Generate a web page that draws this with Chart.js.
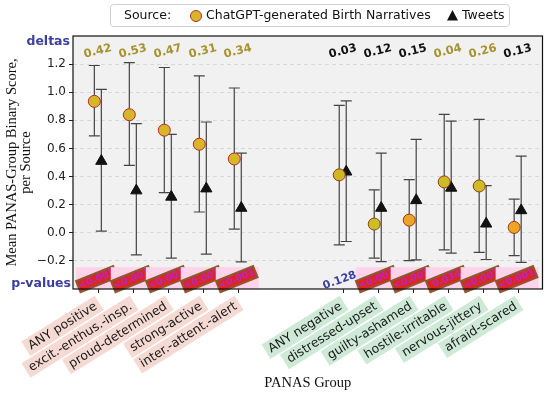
<!DOCTYPE html>
<html>
<head>
<meta charset="utf-8">
<script src="https://cdn.jsdelivr.net/npm/chart.js@4"></script>
<style>
  html, body { margin: 0; padding: 0; background: #fff; }
  #wrap { width: 550px; height: 398px; }
</style>
</head>
<body>
<div id="wrap"><canvas id="chart" width="550" height="398"></canvas></div>
<script>
// ===== PANAS group means, per source =====

const groups = ['ANY positive', 'excit.-enthus.-insp.', 'proud-determined', 'strong-active', 'inter.-attent.-alert',
  'ANY negative', 'distressed-upset', 'guilty-ashamed', 'hostile-irritable', 'nervous-jittery', 'afraid-scared'];
const positions = [0, 1, 2, 3, 4, 7, 8, 9, 10, 11, 12];
const positive = [true, true, true, true, true, false, false, false, false, false, false];

// ChatGPT-generated birth narratives
const gptMean = [0.935, 0.84, 0.73, 0.63, 0.525, 0.412, 0.062, 0.09, 0.362, 0.333, 0.038];
const gptLow = [0.69, 0.48, 0.286, 0.148, 0.026, -0.086, -0.18, -0.198, -0.121, -0.14, -0.162];
const gptHigh = [1.19, 1.21, 1.176, 1.117, 1.03, 0.907, 0.305, 0.378, 0.843, 0.807, 0.24];

// Tweets
const twMean = [0.51, 0.30, 0.255, 0.314, 0.176, 0.434, 0.176, 0.231, 0.319, 0.064, 0.159];
const twLow = [0.012, -0.157, -0.18, -0.152, -0.207, -0.062, -0.205, -0.193, -0.145, -0.19, -0.21];
const twHigh = [1.02, 0.776, 0.70, 0.788, 0.566, 0.938, 0.566, 0.665, 0.795, 0.336, 0.545];

const deltas = ['0.42', '0.53', '0.47', '0.31', '0.34', '0.03', '0.12', '0.15', '0.04', '0.26', '0.13'];
const pValues = ['<0.001', '<0.001', '<0.001', '<0.001', '<0.001', '0.128', '<0.001', '<0.001', '0.034', '<0.001', '<0.001'];
const gptFill = ['#d6b72a', '#d6b72a', '#d6b72a', '#d6b72a', '#d6b72a', '#cdb722', '#c9c025', '#f0a426', '#cdbd24', '#cdbd24', '#f0a426'];

const yTicks = [-0.2, 0, 0.2, 0.4, 0.6, 0.8, 1.0, 1.2];

const BLUE = '#3b3f9e';
const GOLD = '#a8922c';
const SANS = '"DejaVu Sans", sans-serif';
const SERIF = '"Liberation Serif", "DejaVu Serif", serif';

const OFF = 0.1; // horizontal dodge of the two sources

const panasPlugin = {
  id: 'panas',
  beforeDraw(chart) {
    const { ctx, chartArea: a } = chart;
    ctx.save();
    ctx.fillStyle = '#f1f1f1';
    ctx.fillRect(a.left, a.top, a.right - a.left, a.bottom - a.top);
    ctx.restore();
  },
  beforeDatasetsDraw(chart) {
    const { ctx } = chart;
    const xs = chart.scales.x, ys = chart.scales.y;
    ctx.save();
    ctx.strokeStyle = '#444';
    ctx.lineWidth = 1.2;
    const bar = (x, lo, hi) => {
      const px = xs.getPixelForValue(x);
      const p1 = ys.getPixelForValue(lo), p2 = ys.getPixelForValue(hi);
      ctx.beginPath();
      ctx.moveTo(px, p1); ctx.lineTo(px, p2);
      ctx.moveTo(px - 5.5, p1); ctx.lineTo(px + 5.5, p1);
      ctx.moveTo(px - 5.5, p2); ctx.lineTo(px + 5.5, p2);
      ctx.stroke();
    };
    positions.forEach((p, i) => {
      bar(p - OFF, gptLow[i], gptHigh[i]);
      bar(p + OFF, twLow[i], twHigh[i]);
    });
    ctx.restore();
  },
  afterDraw(chart) {
    const { ctx, chartArea: a } = chart;
    const xs = chart.scales.x, ys = chart.scales.y;
    ctx.save();

    // deltas
    ctx.font = 'bold 11.5px ' + SANS;
    ctx.textAlign = 'center';
    ctx.textBaseline = 'middle';
    positions.forEach((p, i) => {
      ctx.save();
      ctx.translate(xs.getPixelForValue(p), ys.getPixelForValue(1.29));
      ctx.rotate(-14 * Math.PI / 180);
      ctx.fillStyle = gptMean[i] > twMean[i] ? GOLD : '#111';
      ctx.fillText(deltas[i], 0, 0);
      ctx.restore();
    });

    // p-values: significant ones in boxes first, the rest as plain text on top
    const isSig = s => parseFloat(s.replace('<', '')) < 0.05;
    positions.forEach((p, i) => {
      if (!isSig(pValues[i])) return;
      const cx = xs.getPixelForValue(p) - 1, cy = ys.getPixelForValue(-0.33);
      ctx.save();
      ctx.fillStyle = '#ffd3ea';
      ctx.fillRect(cx - 21, cy - 12, 43, a.bottom - cy + 12);
      ctx.translate(cx, cy);
      ctx.rotate(-22 * Math.PI / 180);
      ctx.fillStyle = '#de2424';
      ctx.strokeStyle = '#8c5a2e';
      ctx.lineWidth = 2;
      ctx.fillRect(-20, -6, 40, 12);
      ctx.strokeRect(-20, -6, 40, 12);
      ctx.fillStyle = '#b52ab8';
      ctx.font = 'bold 9.5px ' + SANS;
      ctx.textAlign = 'center';
      ctx.textBaseline = 'middle';
      ctx.fillText(pValues[i], 0, 0);
      ctx.restore();
    });
    positions.forEach((p, i) => {
      if (isSig(pValues[i])) return;
      ctx.save();
      ctx.translate(xs.getPixelForValue(p) - 3, ys.getPixelForValue(-0.34));
      ctx.rotate(-20 * Math.PI / 180);
      ctx.fillStyle = BLUE;
      ctx.font = 'bold 11px ' + SANS;
      ctx.textAlign = 'center';
      ctx.textBaseline = 'middle';
      ctx.fillText(pValues[i], 0, 0);
      ctx.restore();
    });

    // frame
    ctx.strokeStyle = '#111';
    ctx.lineWidth = 1.2;
    ctx.strokeRect(a.left, a.top, a.right - a.left, a.bottom - a.top);

    // side labels
    ctx.fillStyle = BLUE;
    ctx.font = 'bold 12.5px ' + SANS;
    ctx.textAlign = 'right';
    ctx.textBaseline = 'middle';
    ctx.fillText('deltas', a.left - 3, 42);
    ctx.fillText('p-values', a.left - 2, 284);

    // x tick marks and labels with boxes
    ctx.strokeStyle = '#222';
    ctx.lineWidth = 1;
    ctx.font = '12.5px ' + SANS;
    positions.forEach((p, i) => {
      const tx = xs.getPixelForValue(p);
      const w = ctx.measureText(groups[i]).width;
      ctx.save();
      ctx.translate(tx - 2, a.bottom + 16);
      ctx.rotate(-32 * Math.PI / 180);
      ctx.fillStyle = positive[i] ? 'rgba(240, 205, 195, 0.75)' : 'rgba(190, 225, 200, 0.75)';
      ctx.fillRect(-w - 4, -8.5, w + 8, 17);
      ctx.fillStyle = '#1a1a1a';
      ctx.textAlign = 'right';
      ctx.textBaseline = 'middle';
      ctx.fillText(groups[i], 0, 0.5);
      ctx.restore();
      ctx.beginPath();
      ctx.moveTo(Math.round(tx) + 0.5, a.bottom);
      ctx.lineTo(Math.round(tx) + 0.5, a.bottom + 4);
      ctx.stroke();
    });

    // axis titles
    ctx.fillStyle = '#111';
    ctx.font = '14.5px ' + SERIF;
    ctx.textAlign = 'center';
    ctx.textBaseline = 'middle';
    ctx.fillText('PANAS Group', (a.left + a.right) / 2, 383);
    ctx.save();
    ctx.translate(12, (a.top + a.bottom) / 2);
    ctx.rotate(-Math.PI / 2);
    ctx.fillText('Mean PANAS-Group Binary Score,', 0, 0);
    ctx.fillText('per Source', 0, 14);
    ctx.restore();

    // legend
    ctx.fillStyle = 'rgba(255,255,255,0.9)';
    ctx.strokeStyle = '#cfcfcf';
    ctx.lineWidth = 1;
    ctx.beginPath();
    ctx.roundRect(110.5, 4.5, 399, 22, 3);
    ctx.fill();
    ctx.stroke();
    ctx.font = '12.5px ' + SANS;
    ctx.textAlign = 'left';
    ctx.fillStyle = '#111';
    ctx.fillText('Source:', 124, 16);
    ctx.beginPath();
    ctx.arc(196, 16, 5.5, 0, Math.PI * 2);
    ctx.fillStyle = '#d6b72a';
    ctx.fill();
    ctx.strokeStyle = '#c0282a';
    ctx.stroke();
    ctx.fillStyle = '#111';
    ctx.fillText('ChatGPT-generated Birth Narratives', 206, 16);
    ctx.beginPath();
    ctx.moveTo(452.5, 10); ctx.lineTo(458, 20.5); ctx.lineTo(447, 20.5); ctx.closePath();
    ctx.fill();
    ctx.fillText('Tweets', 462, 16);

    ctx.restore();
  }
};

new Chart(document.getElementById('chart'), {
  type: 'scatter',
  data: {
    datasets: [
      {
        label: 'ChatGPT-generated Birth Narratives',
        data: positions.map((p, i) => ({ x: p - OFF, y: gptMean[i] })),
        pointStyle: 'circle',
        pointRadius: 6,
        pointBackgroundColor: gptFill,
        pointBorderColor: positions.map((p, i) => positive[i] ? '#c0282a' : '#9a3a1a'),
        pointBorderWidth: 1
      },
      {
        label: 'Tweets',
        data: positions.map((p, i) => ({ x: p + OFF, y: twMean[i] })),
        pointStyle: 'triangle',
        pointRadius: 6.5,
        pointBackgroundColor: '#111',
        pointBorderColor: '#111',
        pointBorderWidth: 1
      }
    ]
  },
  options: {
    responsive: false,
    animation: false,
    layout: { padding: { left: 0, top: 36, right: 5, bottom: 0 } },
    plugins: { legend: { display: false }, tooltip: { enabled: false } },
    scales: {
      x: {
        type: 'linear',
        min: -0.71,
        max: 12.71,
        afterBuildTicks: s => { s.ticks = positions.map(v => ({ value: v })); },
        afterFit: s => { s.height = 109; },
        ticks: { display: false },
        grid: { display: false },
        border: { display: false }
      },
      y: {
        min: -0.4,
        max: 1.4,
        afterBuildTicks: s => { s.ticks = yTicks.map(v => ({ value: v })); },
        afterFit: s => { s.width = 73; },
        ticks: {
          font: { family: SANS, size: 12 },
          color: '#222',
          padding: 3,
          callback: v => (v < 0 ? '\u2212' : '') + Math.abs(v).toFixed(1)
        },
        grid: { color: '#d2d2d2', lineWidth: 0.8, tickColor: '#222', tickLength: 4, tickWidth: 1 },
        border: { display: false, dash: [4, 3] }
      }
    }
  },
  plugins: [panasPlugin]
});
</script>
</body>
</html>
